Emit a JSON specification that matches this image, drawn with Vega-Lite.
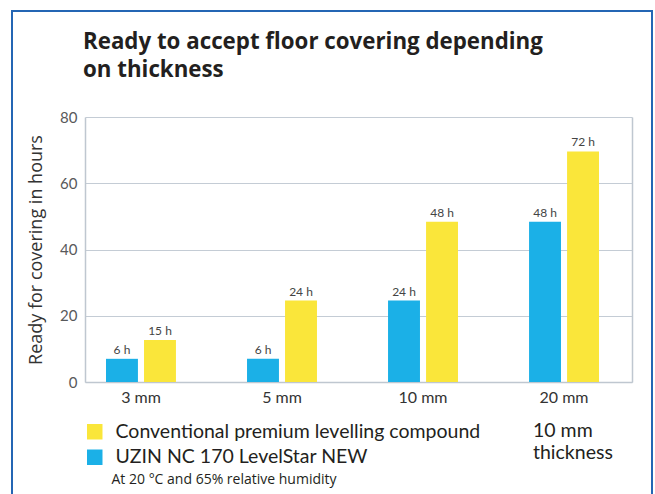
{
  "$schema": "https://vega.github.io/schema/vega-lite/v6.json",
  "autosize": {"type": "none"},
  "padding": {"left": 12, "top": 11, "right": 3, "bottom": 0},
  "width": 640,
  "height": 495,
  "background": "white",
  "config": {
    "font": "Lato",
    "view": {"stroke": "#2466b4", "strokeWidth": 2},
    "axis": {"tickSize": 0, "ticks": false}
  },
  "title": {
    "text": ["Ready to accept floor covering depending", "on thickness"],
    "font": "Open Sans",
    "fontSize": 22.3,
    "fontWeight": "bold",
    "color": "#231f20",
    "anchor": "start",
    "frame": "group",
    "lineHeight": 28,
    "dx": 71,
    "offset": -70
  },
  "data": {
    "values": [
      {"thickness": "3 mm", "product": "UZIN NC 170 LevelStar NEW", "hours": 7, "label": "6 h"},
      {"thickness": "3 mm", "product": "Conventional premium levelling compound", "hours": 12.7, "label": "15 h"},
      {"thickness": "5 mm", "product": "UZIN NC 170 LevelStar NEW", "hours": 7, "label": "6 h"},
      {"thickness": "5 mm", "product": "Conventional premium levelling compound", "hours": 24.6, "label": "24 h"},
      {"thickness": "10 mm", "product": "UZIN NC 170 LevelStar NEW", "hours": 24.6, "label": "24 h"},
      {"thickness": "10 mm", "product": "Conventional premium levelling compound", "hours": 48.4, "label": "48 h"},
      {"thickness": "20 mm", "product": "UZIN NC 170 LevelStar NEW", "hours": 48.4, "label": "48 h"},
      {"thickness": "20 mm", "product": "Conventional premium levelling compound", "hours": 69.6, "label": "72 h"}
    ]
  },
  "encoding": {
    "x": {
      "field": "thickness",
      "type": "nominal",
      "scale": {
        "domain": ["3 mm", "5 mm", "10 mm", "20 mm"],
        "range": [73, 620],
        "paddingInner": 0.504,
        "paddingOuter": 0.1915,
        "align": 0.389
      },
      "axis": {
        "orient": "bottom",
        "offset": -124,
        "labelAngle": 0,
        "labelFontSize": 16,
        "labelColor": "#333333",
        "labelPadding": 7,
        "domain": true,
        "domainColor": "#bfc7d0",
        "domainWidth": 1.5,
        "grid": false,
        "title": "At 20 °C and 65% relative humidity",
        "titleX": 99,
        "titleY": 101,
        "titleAlign": "left",
        "titleBaseline": "alphabetic",
        "titleFont": "Open Sans",
        "titleFontSize": 14,
        "titleFontWeight": "normal",
        "titleColor": "#231f20"
      }
    },
    "xOffset": {
      "field": "product",
      "type": "nominal",
      "scale": {
        "domain": ["UZIN NC 170 LevelStar NEW", "Conventional premium levelling compound"],
        "paddingInner": 0.16,
        "paddingOuter": 0
      }
    },
    "y": {
      "field": "hours",
      "type": "quantitative",
      "scale": {"domain": [0, 80], "range": [371, 106], "nice": false, "zero": true}
    }
  },
  "layer": [
    {
      "mark": {"type": "bar"},
      "encoding": {
        "y": {
          "field": "hours",
          "type": "quantitative",
          "axis": {
            "orient": "left",
            "offset": -73,
            "values": [0, 20, 40, 60, 80],
            "grid": true,
            "gridColor": "#c4ccd5",
            "gridWidth": 1.2,
            "domain": true,
            "domainColor": "#bfc7d0",
            "domainWidth": 1.5,
            "labelFontSize": 15,
            "labelColor": "#58595b",
            "labelPadding": 8,
            "title": "Ready for covering in hours",
            "titleFont": "Open Sans",
            "titleFontSize": 18,
            "titleFontWeight": "normal",
            "titleColor": "#333333",
            "titleBaseline": "alphabetic",
            "titleX": -44
          }
        },
        "color": {
          "field": "product",
          "type": "nominal",
          "scale": {
            "domain": ["Conventional premium levelling compound", "UZIN NC 170 LevelStar NEW"],
            "range": ["#fae63a", "#1bb0e7"]
          },
          "legend": {
            "orient": "none",
            "legendX": 73,
            "legendY": 411,
            "padding": 0,
            "symbolType": "square",
            "symbolSize": 240,
            "symbolStrokeWidth": 0,
            "labelFontSize": 19.5,
            "labelColor": "#231f20",
            "labelLimit": 0,
            "labelOffset": 11,
            "rowPadding": 4.5,
            "title": ["10 mm", "thickness"],
            "titleOrient": "right",
            "titleAnchor": "start",
            "titleAlign": "left",
            "titleBaseline": "top",
            "titleFontSize": 19.5,
            "titleFontWeight": "normal",
            "titleColor": "#231f20",
            "titleLineHeight": 22,
            "titlePadding": 53
          }
        }
      }
    },
    {
      "mark": {"type": "text", "baseline": "alphabetic", "dy": -5, "fontSize": 12, "color": "#444444", "font": "Lato"},
      "encoding": {
        "text": {"field": "label", "type": "nominal"},
        "y": {
          "field": "hours",
          "type": "quantitative",
          "axis": {
            "orient": "right",
            "offset": -20,
            "labels": false,
            "grid": false,
            "domain": true,
            "domainColor": "#bfc7d0",
            "domainWidth": 1.5,
            "title": null
          }
        }
      }
    }
  ],
  "resolve": {"axis": {"y": "independent"}}
}
